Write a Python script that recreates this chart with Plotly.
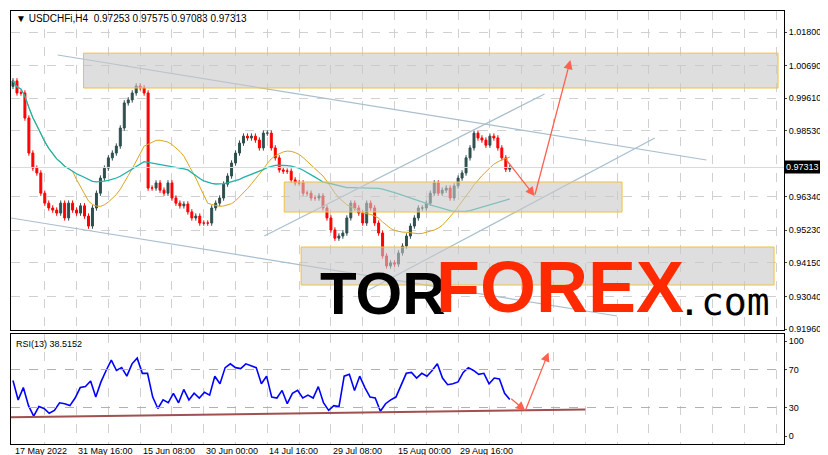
import numpy as np
import pandas as pd
import plotly.graph_objects as go

# H4 closes, sampled roughly every 4 bars
closes = [1.0018, 0.9978, 0.9978, 0.9895, 0.9779, 0.9729, 0.9713, 0.9646, 0.9613, 0.9597,
          0.9590, 0.9580, 0.9613, 0.9564, 0.9613, 0.9590, 0.9580, 0.9604, 0.9570, 0.9537,
          0.9597, 0.9646, 0.9696, 0.9729, 0.9763, 0.9779, 0.9802, 0.9862, 0.9945, 0.9955,
          0.9978, 1.0001, 0.9995, 0.9978, 0.9663, 0.9663, 0.9680, 0.9656, 0.9646, 0.9680,
          0.9630, 0.9613, 0.9604, 0.9610, 0.9584, 0.9564, 0.9570, 0.9547, 0.9547, 0.9547,
          0.9597, 0.9613, 0.9630, 0.9676, 0.9703, 0.9746, 0.9779, 0.9812, 0.9835, 0.9829,
          0.9835, 0.9822, 0.9796, 0.9845, 0.9845, 0.9796, 0.9763, 0.9723, 0.9719, 0.9719,
          0.9690, 0.9680, 0.9680, 0.9646, 0.9646, 0.9630, 0.9630, 0.9637, 0.9597, 0.9564,
          0.9524, 0.9497, 0.9504, 0.9514, 0.9564, 0.9613, 0.9597, 0.9580, 0.9547, 0.9613,
          0.9597, 0.9547, 0.9514, 0.9438, 0.9405, 0.9415, 0.9411, 0.9448, 0.9471, 0.9504,
          0.9537, 0.9564, 0.9597, 0.9597, 0.9613, 0.9646, 0.9680, 0.9646, 0.9656, 0.9663,
          0.9630, 0.9670, 0.9696, 0.9713, 0.9763, 0.9796, 0.9845, 0.9829, 0.9822, 0.9805,
          0.9835, 0.9829, 0.9796, 0.9763, 0.9725, 0.97313]
first_open = 1.0000
wick = 0.0009

rsi_values = [58.5, 38, 51, 32, 21, 31, 29, 24, 27, 35, 34, 32, 40, 51, 52, 58, 41, 57, 69, 80,
              69, 72, 63, 76, 82, 66, 66, 41, 29, 38, 35, 45, 35, 49, 38, 45, 40, 46, 43, 63,
              55, 72, 76, 72, 71, 76, 74, 72, 55, 63, 41, 40, 48, 34, 45, 48, 40, 43, 40, 52,
              35, 27, 32, 31, 63, 65, 48, 63, 51, 41, 40, 26, 34, 38, 41, 54, 66, 67, 61, 66,
              63, 69, 76, 61, 54, 55, 57, 67, 72, 69, 65, 66, 55, 61, 60, 45, 38.5]

price_ticks = [1.018, 1.0069, 0.9961, 0.9853, 0.9634, 0.9523, 0.9415, 0.9304, 0.9196]
date_labels = ["17 May 2022", "31 May 16:00", "15 Jun 08:00", "30 Jun 00:00",
               "14 Jul 16:00", "29 Jul 08:00", "15 Aug 00:00", "29 Aug 16:00"]
date_bars = [0, 15.75, 32.25, 48, 64, 80, 96.25, 112]
last_price = 0.97313

n = len(closes)
bars = np.arange(n)
opens = [first_open] + closes[:-1]
highs = [max(o, c) + wick for o, c in zip(opens, closes)]
lows = [min(o, c) - wick for o, c in zip(opens, closes)]
s = pd.Series(closes)
ma_fast = s.rolling(16, min_periods=1).mean()
ma_slow = s.rolling(45, min_periods=1).mean()
rsi_x = np.linspace(0, n - 1, len(rsi_values))

X0, X1 = 3, 776
Y0, Y1 = 3, 436
def px(x):
    return (x - X0) / (X1 - X0)
def py(y):
    return (Y1 - y) / (Y1 - Y0)

fig = go.Figure()
fig.add_trace(go.Candlestick(
    x=bars, open=opens, high=highs, low=lows, close=closes,
    increasing=dict(line=dict(color="#2f4f4f", width=1), fillcolor="#2f4f4f"),
    decreasing=dict(line=dict(color="#ff0000", width=1), fillcolor="#ff0000"),
    whiskerwidth=0, showlegend=False, xaxis="x", yaxis="y"))
fig.add_trace(go.Scatter(x=bars, y=ma_fast, mode="lines", line=dict(color="#daa520", width=1),
                         showlegend=False, xaxis="x", yaxis="y"))
fig.add_trace(go.Scatter(x=bars, y=ma_slow, mode="lines", line=dict(color="#20b2aa", width=1.3),
                         showlegend=False, xaxis="x", yaxis="y"))
fig.add_trace(go.Scatter(x=rsi_x, y=rsi_values, mode="lines", line=dict(color="#0000ff", width=1.6),
                         showlegend=False, xaxis="x2", yaxis="y2"))

shapes = []
# price line
shapes.append(dict(type="line", xref="x", yref="y", x0=-0.5, x1=194, y0=last_price, y1=last_price,
                   line=dict(color="#d8d8d8", width=1)))
# trend lines
for (a, b, c, d) in [(11.25, 1.01038, 174.5, 0.97559), (-0.5, 0.95638, 152, 0.92391),
                     (63.25, 0.95042, 133.75, 0.99746), (89.5, 0.93252, 161.5, 0.98288)]:
    shapes.append(dict(type="line", xref="x", yref="y", x0=a, y0=b, x1=c, y1=d,
                       line=dict(color="#a9bfcf", width=1.2)))
# zones
for (a, b, c, d) in [(17.75, 1.0110, 192.5, 0.99945), (68.25, 0.9683, 153.25, 0.95836),
                     (72.5, 0.94677, 191.5, 0.93418)]:
    shapes.append(dict(type="rect", xref="x", yref="y", x0=a, y0=b, x1=c, y1=d, layer="above",
                       fillcolor="rgba(200,200,200,0.6)", line=dict(color="#f0c040", width=1)))
# RSI support
shapes.append(dict(type="line", xref="x2", yref="y2", x0=-0.5, y0=19.8, x1=144, y1=28,
                   line=dict(color="#a05050", width=2)))
fig.update_layout(shapes=shapes)

arrow_color = "#ff6050"
ann = []
for (xa, ya, xb, yb, ref) in [(123.75, 0.97626, 131.25, 0.96367, "y"),
                              (131.25, 0.96367, 140.25, 1.00872, "y"),
                              (125, 40.6, 128.9, 26.6, "y2"),
                              (128.9, 26.6, 134.75, 88, "y2")]:
    xr = "x" if ref == "y" else "x2"
    ann.append(dict(x=xb, y=yb, ax=xa, ay=ya, xref=xr, yref=ref, axref=xr, ayref=ref,
                    showarrow=True, arrowhead=2, arrowsize=1.4, arrowwidth=1.3,
                    arrowcolor=arrow_color, text=""))
for lab, b in zip(date_labels, date_bars):
    ann.append(dict(x=b, y=py(443), xref="x2", yref="paper", xanchor="left", yanchor="middle",
                    text=lab, showarrow=False, font=dict(size=9, color="black")))
ann.append(dict(x=1, y=last_price, xref="paper", yref="y", xanchor="left", text="0.97313",
                showarrow=False, bgcolor="black", font=dict(size=9, color="white"), borderpad=1))
ann.append(dict(x=px(6), y=py(11), xref="paper", yref="paper", xanchor="left", yanchor="middle",
                text="\u25bc USDCHFi,H4  0.97253 0.97575 0.97083 0.97313", showarrow=False,
                font=dict(size=10, color="black")))
ann.append(dict(x=px(6), y=py(336), xref="paper", yref="paper", xanchor="left", yanchor="middle",
                text="RSI(13) 38.5152", showarrow=False, font=dict(size=9, color="black")))
# logo
ann.append(dict(x=px(310), y=py(321), xref="paper", yref="paper", xanchor="left", yanchor="bottom",
                text="<b>TOR</b>", showarrow=False,
                font=dict(size=60, color="black", family="Liberation Sans")))
ann.append(dict(x=px(426), y=py(321), xref="paper", yref="paper", xanchor="left", yanchor="bottom",
                text="<b>FOREX</b>", showarrow=False,
                font=dict(size=72, color="#ff2a00", family="Liberation Sans")))
ann.append(dict(x=px(668), y=py(318), xref="paper", yref="paper", xanchor="left", yanchor="bottom",
                text=".com", showarrow=False,
                font=dict(size=38, color="black", family="DejaVu Sans Mono")))
fig.update_layout(annotations=ann)

axis_common = dict(showgrid=True, gridcolor="#d0d0d0", griddash="dash", showline=True,
                   linecolor="black", mirror=True, zeroline=False, linewidth=1)
fig.update_layout(
    width=828, height=455, paper_bgcolor="white", plot_bgcolor="white",
    margin=dict(l=X0, r=828 - X1, t=Y0, b=455 - Y1),
    font=dict(family="Liberation Sans", size=10, color="black"),
    xaxis=dict(domain=[0, 1], range=[-0.5, 194], anchor="y", tickvals=list(np.arange(8, 194, 8)),
               showticklabels=False, rangeslider=dict(visible=False), **axis_common),
    yaxis=dict(domain=[py(322), 1], range=[0.91927, 1.02496], side="right", anchor="x",
               tickvals=price_ticks, ticktext=[f"{v:.5f}" for v in price_ticks],
               ticks="outside", ticklen=2, tickfont=dict(size=9), **axis_common),
    xaxis2=dict(domain=[0, 1], range=[-0.5, 194], anchor="y2", tickvals=list(np.arange(8, 194, 8)),
                showticklabels=False, **axis_common),
    yaxis2=dict(domain=[0, py(326)], range=[-8.4, 107.4], side="right", anchor="x2",
                tickvals=[0, 30, 70, 100], ticks="outside", ticklen=2, tickfont=dict(size=9),
                **axis_common),
)
fig.update_yaxes(showgrid=False, selector=dict(anchor="x2"))
fig.add_hline(y=30, line=dict(color="#b0b0b0", dash="dash", width=1), xref="x2", yref="y2")
fig.add_hline(y=70, line=dict(color="#b0b0b0", dash="dash", width=1), xref="x2", yref="y2")

fig.write_html("out.html")
